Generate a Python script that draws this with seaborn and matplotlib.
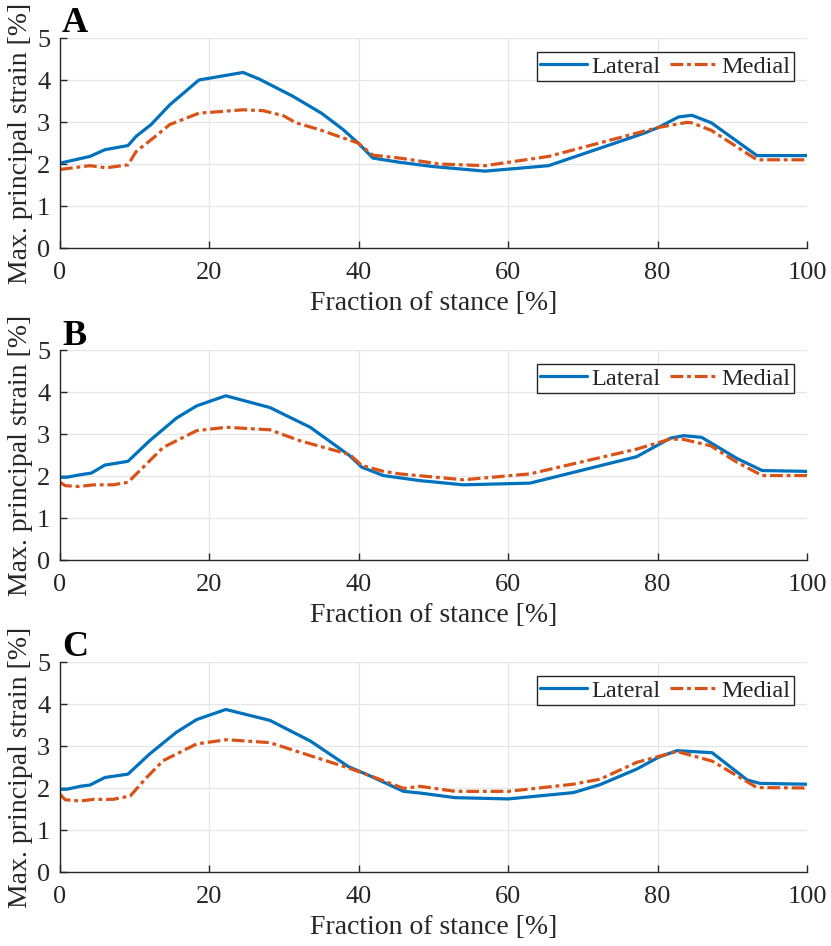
import numpy as np
import pandas as pd
import matplotlib
matplotlib.use("Agg")
import matplotlib.pyplot as plt
import seaborn as sns

sns.set_theme(style="whitegrid")
plt.rcParams['font.family'] = ['Liberation Serif', 'DejaVu Serif']
plt.rcParams['mathtext.fontset'] = 'stix'

# --- data ---
a_lat_x = [0, 4, 6, 9.1, 10.2, 12.2, 14.7, 18.6, 24.5, 26.7, 31.2, 35, 37.9, 39.9, 41.9,
           45.5, 49.9, 56.9, 65.4, 78.3, 80.1, 82.8, 84.6, 87.2, 93.3, 100]
a_lat_y = [2.02, 2.18, 2.34, 2.44, 2.66, 2.94, 3.41, 4.0, 4.18, 4.02, 3.61, 3.21, 2.82, 2.5, 2.14,
           2.04, 1.94, 1.83, 1.96, 2.74, 2.87, 3.12, 3.16, 2.98, 2.2, 2.2]
a_med_x = [0, 4, 6.2, 9.1, 10.2, 12.5, 14.7, 18.6, 24.5, 27.2, 29.9, 31.6, 34.7, 37.9, 39.9, 41.9,
           45.5, 50.8, 56.9, 65.4, 70.5, 80.1, 83.9, 84.6, 87.2, 93.3, 100]
a_med_y = [1.87, 1.96, 1.91, 1.98, 2.3, 2.62, 2.94, 3.21, 3.29, 3.27, 3.15, 2.98, 2.82, 2.62, 2.5, 2.21,
           2.14, 2.0, 1.96, 2.18, 2.42, 2.87, 2.99, 2.98, 2.8, 2.1, 2.1]

b_lat_x = [0, 0.9, 2.7, 4.2, 6.0, 9.1, 12.0, 15.6, 18.3, 22.2, 28.1, 33.5, 38.8, 40.4, 43.3,
           48.2, 54, 62.9, 77.2, 81.7, 83.5, 85.9, 90.6, 94, 100]
b_lat_y = [1.97, 1.97, 2.03, 2.07, 2.26, 2.35, 2.84, 3.38, 3.67, 3.91, 3.63, 3.16, 2.48, 2.21, 2.01,
           1.89, 1.79, 1.83, 2.46, 2.9, 2.96, 2.92, 2.42, 2.13, 2.11]
b_med_x = [0, 0.7, 2.5, 4.5, 7.1, 9.1, 11.6, 13.8, 18.3, 22.3, 28.1, 32.1, 38.8, 40.4, 43.3,
           45.5, 54, 62.9, 77.2, 81.7, 83.5, 87.1, 90.6, 94, 100]
b_med_y = [1.85, 1.77, 1.75, 1.79, 1.79, 1.85, 2.29, 2.68, 3.08, 3.16, 3.1, 2.84, 2.51, 2.25, 2.11,
           2.05, 1.91, 2.05, 2.64, 2.88, 2.87, 2.72, 2.33, 2.01, 2.01]

c_lat_x = [0, 0.9, 2.7, 4, 6, 9.1, 12, 15.6, 18.3, 22.2, 28.1, 33.5, 38.6, 41.1, 46, 48.2,
           52.9, 60, 68.7, 72.3, 77.2, 80.1, 82.6, 87.3, 92, 93.7, 100]
c_lat_y = [1.97, 1.97, 2.04, 2.07, 2.25, 2.33, 2.81, 3.33, 3.63, 3.87, 3.61, 3.12, 2.51, 2.32, 1.92, 1.88,
           1.77, 1.74, 1.89, 2.08, 2.45, 2.73, 2.89, 2.84, 2.19, 2.11, 2.09]
c_med_x = [0, 0.7, 2.7, 4.5, 7.1, 9.4, 11.6, 13.8, 18.3, 22.3, 28.1, 32.1, 38.4, 41.1, 46, 48.2,
           52.9, 60, 68.7, 72.3, 77.2, 80.1, 82.6, 87.3, 93.3, 100]
c_med_y = [1.85, 1.72, 1.69, 1.73, 1.73, 1.81, 2.25, 2.65, 3.05, 3.15, 3.08, 2.85, 2.49, 2.32, 1.99, 2.04,
           1.92, 1.92, 2.09, 2.21, 2.61, 2.75, 2.87, 2.64, 2.01, 2.0]

panels = [
    ('A', a_lat_x, a_lat_y, a_med_x, a_med_y),
    ('B', b_lat_x, b_lat_y, b_med_x, b_med_y),
    ('C', c_lat_x, c_lat_y, c_med_x, c_med_y),
]

blue = '#0072BD'
orange = '#D95319'
dark = '#262626'

fig = plt.figure(figsize=(8.31, 9.46), dpi=100)
tops = [38, 350, 662]
ax_h = 210

for (letter, lx, ly, mx, my), top in zip(panels, tops):
    ax = fig.add_axes([60 / 831, 1 - (top + ax_h) / 946, 747 / 831, ax_h / 946])
    sns.lineplot(x=lx, y=ly, ax=ax, color=blue, lw=2.3, label='Lateral')
    sns.lineplot(x=mx, y=my, ax=ax, color=orange, lw=2.3, label='Medial',
                 linestyle=(0, (4, 1.2, 1.2, 1.2)))
    ax.set_xlim(0, 100)
    ax.set_ylim(0, 5)
    ax.set_xticks([0, 20, 40, 60, 80, 100])
    ax.set_yticks([0, 1, 2, 3, 4, 5])
    ax.grid(True, color='#e6e6e6', lw=0.9)
    ax.set_facecolor('white')
    for s in ['top', 'right']:
        ax.spines[s].set_visible(False)
    for s in ['left', 'bottom']:
        ax.spines[s].set_color(dark)
        ax.spines[s].set_linewidth(1.0)
    ax.tick_params(axis='x', direction='in', length=5, width=1, color=dark, labelcolor=dark,
                   labelsize=19, bottom=True, pad=10)
    ax.tick_params(axis='y', direction='in', length=5, width=1, color=dark, labelcolor=dark,
                   labelsize=19, left=True, pad=7)
    ax.set_xlabel('Fraction of stance [%]', fontsize=20, color=dark, labelpad=5)
    ax.set_ylabel('Max. principal strain [%]', fontsize=20, color=dark, labelpad=3)
    leg = ax.legend(loc='upper right', ncol=2, fontsize=17.5, frameon=True, fancybox=False,
                    handlelength=1.9, handletextpad=0.2, columnspacing=0.4,
                    borderpad=0.15, borderaxespad=0.0,
                    bbox_to_anchor=((747 - 13) / 747, 1 - 14 / 210))
    leg.get_frame().set_edgecolor(dark)
    leg.get_frame().set_linewidth(1.0)
    leg.get_frame().set_alpha(1)
    fig.text(62 / 831, 1 - (top - 14) / 946, letter, fontsize=26, fontweight='bold',
             va='center', ha='left', color='black')

fig.savefig('out.png', dpi=100)
